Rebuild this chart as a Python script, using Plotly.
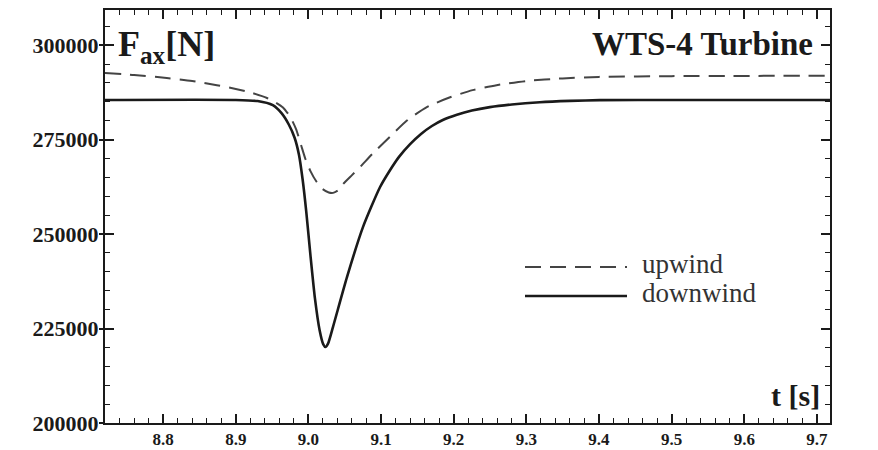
import plotly.graph_objects as go

# Axial rotor force of the WTS-4 turbine during the tower passage
t_up = [8.72, 8.76, 8.805, 8.84, 8.874, 8.90, 8.92, 8.943, 8.955, 8.965,
        8.975, 8.983, 8.990, 8.996, 9.003, 9.011, 9.019, 9.028, 9.034, 9.041,
        9.048, 9.060, 9.071, 9.089, 9.112, 9.136, 9.163, 9.195, 9.226, 9.259,
        9.30, 9.35, 9.40, 9.50, 9.718]
f_up = [292600, 292100, 291300, 290500, 289400, 288400, 287500, 286000, 284800, 283500,
        281000, 277800, 273500, 269800, 266600, 263900, 262000, 261000, 260900, 261600,
        263300, 265600, 267700, 271400, 275700, 280100, 283600, 286200, 288100, 289400,
        290500, 291200, 291600, 291800, 291900]

t_down = [8.72, 8.90, 8.93, 8.951, 8.963, 8.973, 8.981, 8.987, 8.992, 8.997,
          9.0025, 9.009, 9.0155, 9.0205, 9.0235, 9.027, 9.0338, 9.0531, 9.0751, 9.0985,
          9.1123, 9.125, 9.14, 9.155, 9.17, 9.185, 9.2044, 9.225, 9.2498, 9.28,
          9.3186, 9.36, 9.401, 9.50, 9.718]
f_down = [285500, 285500, 285200, 284100, 282000, 279000, 275500, 271000, 264500, 256000,
          245000, 233000, 224500, 220800, 220100, 221000, 225400, 238600, 251850, 262400,
          266900, 270500, 273800, 276500, 278600, 280200, 281600, 282700, 283600, 284300,
          284900, 285250, 285450, 285500, 285500]

x_ticks = [8.8, 8.9, 9.0, 9.1, 9.2, 9.3, 9.4, 9.5, 9.6, 9.7]
y_ticks = [200000, 225000, 250000, 275000, 300000]

series_names = ["upwind", "downwind"]

SERIF = "Liberation Serif"
INK = "#1a1a1a"
X_RANGE = [8.72, 9.718]
Y_RANGE = [200000, 309300]

fig = go.Figure()
fig.add_trace(go.Scatter(
    x=t_up, y=f_up, mode="lines", name=series_names[0],
    line=dict(color="#444444", width=2, dash="16px,9px", shape="spline", smoothing=0.6),
))
fig.add_trace(go.Scatter(
    x=t_down, y=f_down, mode="lines", name=series_names[1],
    line=dict(color=INK, width=2.6, shape="spline", smoothing=0.6),
))

# plot frame in pixels: left 105, right 830, top 10, bottom 423
W, H = 878, 450
L, R, T, B = 105, 830, 10, 423


def px(x):
    return (x - L) / (R - L)


def py(y):
    return (B - y) / (B - T)


axis_common = dict(
    showgrid=False, zeroline=False, showline=True, linecolor=INK, linewidth=2,
    mirror="ticks", ticks="inside", ticklen=9, tickwidth=1.5, tickcolor=INK,
    automargin=False,
)

fig.update_layout(
    width=W, height=H,
    margin=dict(l=L, r=W - R, t=T, b=H - B, autoexpand=False),
    paper_bgcolor="white", plot_bgcolor="white",
    showlegend=False,
    xaxis=dict(
        range=X_RANGE, tickvals=x_ticks,
        ticktext=[f"{v:.1f}" for v in x_ticks],
        tickfont=dict(family=SERIF, size=17, color=INK, weight="bold"),
        minor=dict(dtick=0.02, tick0=8.8, ticks="inside", ticklen=5, tickwidth=1.2, tickcolor=INK),
        **axis_common,
    ),
    yaxis=dict(
        range=Y_RANGE, tickvals=y_ticks,
        ticktext=[str(v) for v in y_ticks],
        tickfont=dict(family=SERIF, size=22, color=INK, weight="bold"),
        minor=dict(dtick=5000, tick0=200000, ticks="inside", ticklen=5, tickwidth=1.2, tickcolor=INK),
        **axis_common,
    ),
    # short outward stubs of the major force ticks
    yaxis2=dict(
        overlaying="y", anchor="x", side="left", range=Y_RANGE, tickvals=y_ticks,
        showticklabels=False, showgrid=False, zeroline=False, showline=False,
        ticks="outside", ticklen=5, tickwidth=1.5, tickcolor=INK, automargin=False,
    ),
)
fig.add_trace(go.Scatter(x=[X_RANGE[0]], y=[Y_RANGE[0]], yaxis="y2", mode="lines",
                         hoverinfo="skip", showlegend=False, line=dict(width=0)))

# legend drawn inside the plot frame
leg_x0, leg_x1 = px(525), px(627)
fig.add_shape(type="line", xref="paper", yref="paper", x0=leg_x0, x1=leg_x1,
              y0=py(267), y1=py(267), line=dict(color="#444444", width=2, dash="16px,9px"))
fig.add_shape(type="line", xref="paper", yref="paper", x0=leg_x0, x1=leg_x1,
              y0=py(296), y1=py(296), line=dict(color=INK, width=2.6))
for name, yy in zip(series_names, [264, 293]):
    fig.add_annotation(xref="paper", yref="paper", x=px(640), y=py(yy), text=name,
                       showarrow=False, xanchor="left", yanchor="middle",
                       font=dict(family=SERIF, size=27, color="#333333"))

fig.add_annotation(xref="paper", yref="paper", x=px(116), y=py(46),
                   text="F<sub>ax</sub>[N]", showarrow=False, xanchor="left", yanchor="middle",
                   font=dict(family=SERIF, size=36, color=INK, weight="bold"))
fig.add_annotation(xref="paper", yref="paper", x=px(815), y=py(44),
                   text="WTS-4 Turbine", showarrow=False, xanchor="right", yanchor="middle",
                   font=dict(family=SERIF, size=33, color=INK, weight="bold"))
fig.add_annotation(xref="paper", yref="paper", x=px(822), y=py(395),
                   text="t [s]", showarrow=False, xanchor="right", yanchor="middle",
                   font=dict(family=SERIF, size=30, color=INK, weight="bold"))

fig.write_html("out.html")
